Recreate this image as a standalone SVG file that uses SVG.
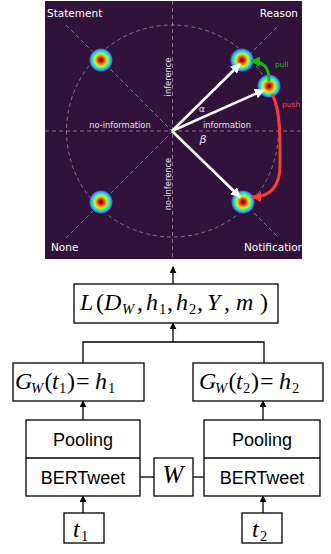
<svg xmlns="http://www.w3.org/2000/svg" width="331" height="554" viewBox="0 0 331 554">
<style>
.guide{fill:none;stroke:#c9bfd0;stroke-opacity:0.7;stroke-width:0.8;stroke-dasharray:4 3}
.lbl{font-family:"DejaVu Sans",sans-serif;fill:#ffffff;font-size:10.5px}
.axl{font-family:"DejaVu Sans",sans-serif;fill:#e6e1ea;font-size:8.3px}
.vec{stroke:#ffffff;stroke-width:2.6;fill:none}
.box{fill:#ffffff;stroke:#000000;stroke-width:1.3}
.ln{fill:none;stroke:#000000;stroke-width:1.3}
.math{font-family:"Liberation Serif","Times New Roman",serif;font-style:italic;font-size:24px;fill:#000}
.rm{font-style:normal}
.sub{font-size:14.5px}
.sans{font-family:"Liberation Sans",Arial,sans-serif;font-size:18px;fill:#000;text-anchor:middle}
</style>
<defs>
<radialGradient id="blob">
<stop offset="0" stop-color="#6a0402"/>
<stop offset="0.12" stop-color="#a01402"/>
<stop offset="0.26" stop-color="#e04208"/>
<stop offset="0.38" stop-color="#fb8d26"/>
<stop offset="0.48" stop-color="#e8d038"/>
<stop offset="0.57" stop-color="#a4fc3c"/>
<stop offset="0.65" stop-color="#46f884"/>
<stop offset="0.73" stop-color="#1ae4b6"/>
<stop offset="0.82" stop-color="#35abf8"/>
<stop offset="0.91" stop-color="#4662d7"/>
<stop offset="1" stop-color="#30123b"/>
</radialGradient>
<clipPath id="pc"><rect x="45" y="1" width="257" height="258"/></clipPath>
<marker id="wh" viewBox="0 0 10 10" refX="9" refY="5" markerWidth="10" markerHeight="10" markerUnits="userSpaceOnUse" orient="auto"><path d="M0,0 L10,5 L0,10 z" fill="#ffffff"/></marker>
<marker id="gh" viewBox="0 0 10 10" refX="9" refY="5" markerWidth="10" markerHeight="10" markerUnits="userSpaceOnUse" orient="auto"><path d="M0,0 L10,5 L0,10 z" fill="#11bb11"/></marker>
<marker id="rh" viewBox="0 0 10 10" refX="9" refY="5" markerWidth="10" markerHeight="10" markerUnits="userSpaceOnUse" orient="auto"><path d="M0,0 L10,5 L0,10 z" fill="#ff3a3a"/></marker>
<marker id="bh" viewBox="0 0 10 10" refX="9" refY="5" markerWidth="7" markerHeight="7" markerUnits="userSpaceOnUse" orient="auto"><path d="M0,0 L10,5 L0,10 z" fill="#000000"/></marker>
</defs>

<g id="plot" clip-path="url(#pc)">
<rect x="45" y="1" width="257" height="258" fill="#30123b"/>
<line class="guide" x1="172.5" y1="1" x2="172.5" y2="259"/>
<line class="guide" x1="45" y1="131" x2="302" y2="131"/>
<line class="guide" x1="66" y1="25" x2="279" y2="238"/>
<line class="guide" x1="66" y1="238" x2="279" y2="25"/>
<circle class="guide" cx="172.5" cy="131" r="106"/>
<circle cx="101" cy="60" r="12" fill="url(#blob)"/>
<circle cx="242" cy="60" r="12" fill="url(#blob)"/>
<circle cx="269" cy="86" r="12" fill="url(#blob)"/>
<circle cx="101" cy="202" r="12" fill="url(#blob)"/>
<circle cx="243" cy="202" r="12" fill="url(#blob)"/>
<text class="lbl" x="47" y="17">Statement</text>
<text class="lbl" x="298" y="17" text-anchor="end">Reason</text>
<text class="lbl" x="51" y="251">None</text>
<text class="lbl" x="244" y="251">Notification</text>
<text class="axl" x="120" y="128" text-anchor="middle">no-information</text>
<text class="axl" x="227" y="128" text-anchor="middle">information</text>
<text class="axl" transform="translate(171,77) rotate(-90)" text-anchor="middle">inference</text>
<text class="axl" transform="translate(171,184) rotate(-90)" text-anchor="middle">no-inference</text>
<text x="202" y="112" style="font-family:'DejaVu Sans',sans-serif;font-size:9.5px;fill:#e6e1ea" text-anchor="middle">α</text>
<text x="203" y="143" style="font-family:'DejaVu Sans',sans-serif;font-size:11px;font-style:italic;fill:#e6e1ea" text-anchor="middle">β</text>
<line class="vec" x1="172" y1="131" x2="240" y2="64" marker-end="url(#wh)"/>
<line class="vec" x1="172" y1="131" x2="264" y2="90" marker-end="url(#wh)"/>
<line class="vec" x1="172" y1="131" x2="240" y2="197" marker-end="url(#wh)"/>
<path d="M269,81 C269,68 265,62 251,61" fill="none" stroke="#11bb11" stroke-width="3" marker-end="url(#gh)"/>
<text x="275" y="67" style="font-family:'DejaVu Sans',sans-serif;font-size:7.5px;fill:#22bb22">pull</text>
<path d="M272,94 C281,110 280,140 280,165 C280,185 272,197 252,197" fill="none" stroke="#ff3a3a" stroke-width="3" marker-end="url(#rh)"/>
<text x="282" y="107" style="font-family:'DejaVu Sans',sans-serif;font-size:7.5px;fill:#ff3a3a">push</text>
</g>

<g id="connectors">
<line class="ln" x1="173" y1="284" x2="173" y2="267" marker-end="url(#bh)"/>
<line class="ln" x1="173" y1="342" x2="173" y2="323" marker-end="url(#bh)"/>
<polyline class="ln" points="83,363 83,342 264,342 264,363"/>
<line class="ln" x1="83" y1="420" x2="83" y2="401" marker-end="url(#bh)"/>
<line class="ln" x1="263" y1="420" x2="263" y2="401" marker-end="url(#bh)"/>
<line class="ln" x1="83" y1="513" x2="83" y2="496" marker-end="url(#bh)"/>
<line class="ln" x1="263" y1="513" x2="263" y2="496" marker-end="url(#bh)"/>
<line class="ln" x1="140" y1="477" x2="154" y2="477"/>
<line class="ln" x1="193" y1="477" x2="204" y2="477"/>
</g>

<g id="loss">
<rect class="box" x="74" y="284" width="204" height="39"/>
<text class="math" y="310"><tspan x="80">L</tspan><tspan x="96" class="rm">(</tspan><tspan x="104">D</tspan><tspan x="122" dy="4" class="sub">W</tspan><tspan x="137" dy="-4" class="rm">,</tspan><tspan x="146">h</tspan><tspan x="159" dy="4" class="sub rm">1</tspan><tspan x="167" dy="-4" class="rm">,</tspan><tspan x="176">h</tspan><tspan x="189" dy="4" class="sub rm">2</tspan><tspan x="197" dy="-4" class="rm">,</tspan><tspan x="207">Y</tspan><tspan x="224" class="rm">,</tspan><tspan x="236">m</tspan><tspan x="260" class="rm">)</tspan></text>
</g>

<g id="g1">
<rect class="box" x="13" y="363" width="131" height="38"/>
<text class="math" y="389"><tspan x="15">G</tspan><tspan x="31" dy="4" class="sub">W</tspan><tspan x="44.5" dy="-4" class="rm">(</tspan><tspan x="52">t</tspan><tspan x="59" dy="4" class="sub rm">1</tspan><tspan x="67" dy="-4" class="rm">)</tspan><tspan x="76" class="rm">=</tspan><tspan x="95">h</tspan><tspan x="108" dy="4" class="sub rm">1</tspan></text>
</g>

<g id="g2">
<rect class="box" x="193" y="363" width="130" height="38"/>
<text class="math" y="389"><tspan x="199">G</tspan><tspan x="215" dy="4" class="sub">W</tspan><tspan x="228.5" dy="-4" class="rm">(</tspan><tspan x="236">t</tspan><tspan x="243" dy="4" class="sub rm">2</tspan><tspan x="251" dy="-4" class="rm">)</tspan><tspan x="260" class="rm">=</tspan><tspan x="279">h</tspan><tspan x="292" dy="4" class="sub rm">2</tspan></text>
</g>

<g id="enc1">
<rect class="box" x="26" y="420" width="114" height="76"/>
<line class="ln" x1="26" y1="458" x2="140" y2="458"/>
<text class="sans" x="83" y="446">Pooling</text>
<text class="sans" x="83" y="484">BERTweet</text>
</g>

<g id="enc2">
<rect class="box" x="204" y="420" width="116" height="76"/>
<line class="ln" x1="204" y1="458" x2="320" y2="458"/>
<text class="sans" x="262" y="446">Pooling</text>
<text class="sans" x="262" y="484">BERTweet</text>
</g>

<g id="w">
<rect class="box" x="154" y="458" width="39" height="38"/>
<text class="math" x="173" y="483" text-anchor="middle" style="font-size:25px">W</text>
</g>

<g id="t1">
<rect class="box" x="64" y="513" width="40" height="30"/>
<text class="math" y="537"><tspan x="73">t</tspan><tspan x="81" dy="4" class="sub rm">1</tspan></text>
</g>

<g id="t2">
<rect class="box" x="242" y="513" width="40" height="30"/>
<text class="math" y="537"><tspan x="252">t</tspan><tspan x="260" dy="4" class="sub rm">2</tspan></text>
</g>
</svg>
